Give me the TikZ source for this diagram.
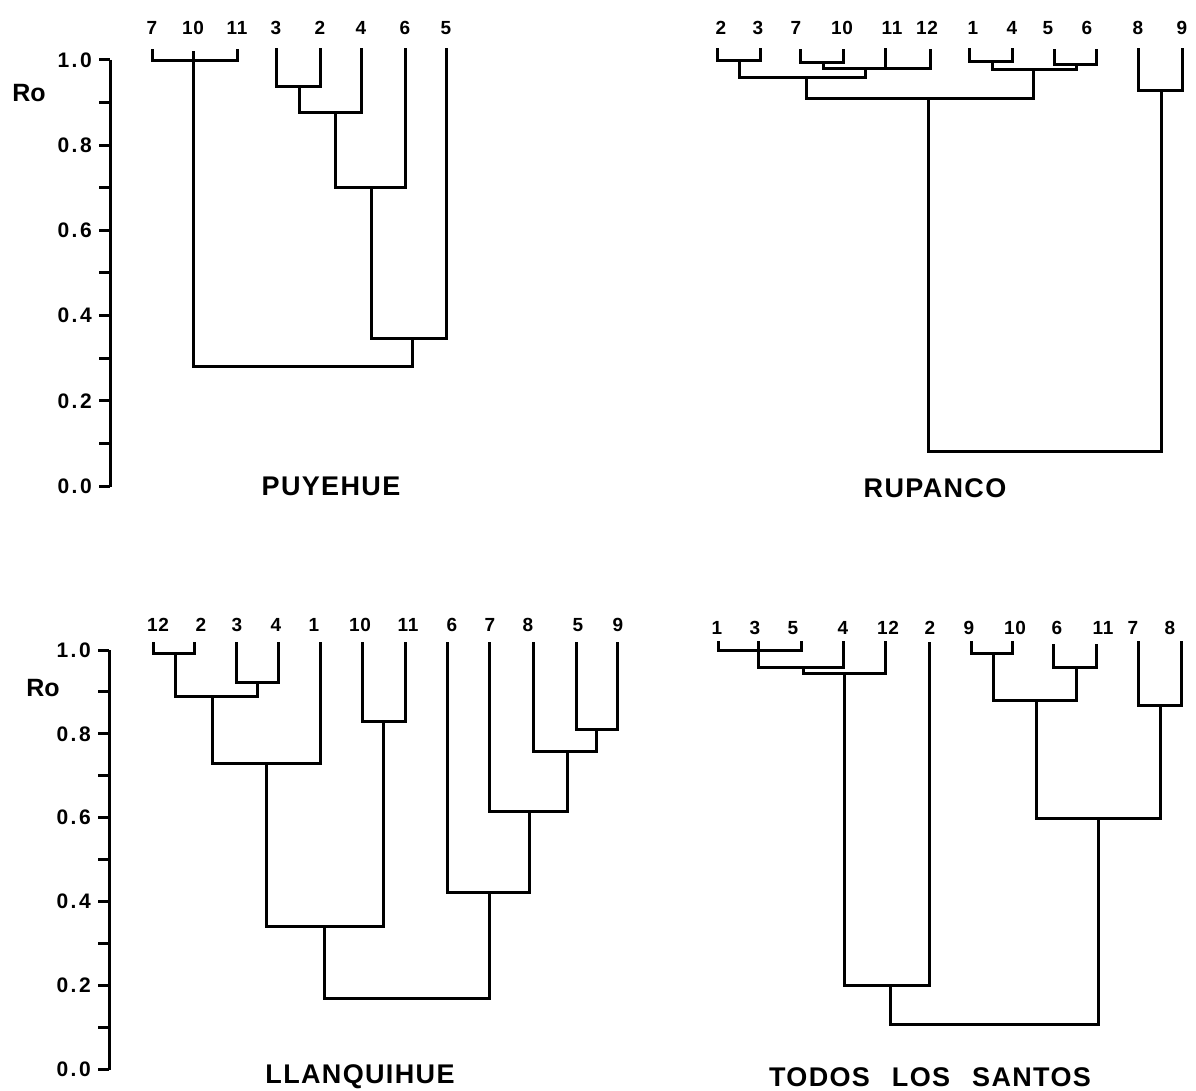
\documentclass[tikz,border=0pt]{standalone}
\usepackage{fontspec}
\setmainfont{Liberation Sans}
\newfontfamily\leaffont[LetterSpace=3]{Liberation Sans}
\newfontfamily\axfont[LetterSpace=12]{Liberation Sans}
\newfontfamily\ttlfont[LetterSpace=5]{Liberation Sans}
\begin{document}
\begin{tikzpicture}[x=1pt,y=-1pt,
  tree/.style={line width=3pt, line join=miter, line cap=rect},
  axisline/.style={line width=3pt},
  leaf/.style={inner sep=0pt, font=\leaffont\bfseries\fontsize{19}{19}\selectfont},
  axlbl/.style={inner sep=0pt, anchor=east, font=\axfont\bfseries\fontsize{21}{21}\selectfont},
  rolbl/.style={inner sep=0pt, font=\bfseries\fontsize{25}{25}\selectfont},
  ttl/.style={inner sep=0pt, font=\ttlfont\bfseries\fontsize{27}{27}\selectfont}]
\fill[white] (0,0) rectangle (1196,1091);
\useasboundingbox (0,0) rectangle (1196,1091);

% ---------- upper axis ----------
\draw[axisline] (110,60) -- (110,487);
\foreach \k in {0,...,10}{
  \draw[axisline] (99,{60+\k*42.6}) -- (110,{60+\k*42.6});
}
\foreach \v/\k in {1.0/0,0.8/2,0.6/4,0.4/6,0.2/8,0.0/10}{
  \node[axlbl] (ua\k) at (92,{60+\k*42.6}) {\v};
}
\node[rolbl] (uro) at (29,93) {Ro};

% ---------- lower axis ----------
\draw[axisline] (109,650) -- (109,1070);
\foreach \k in {0,...,10}{
  \draw[axisline] (98,{650+\k*41.9}) -- (109,{650+\k*41.9});
}
\foreach \v/\k in {1.0/0,0.8/2,0.6/4,0.4/6,0.2/8,0.0/10}{
  \node[axlbl] (la\k) at (91,{650+\k*41.9}) {\v};
}
\node[rolbl] (lro) at (43,688) {Ro};

% ---------- PUYEHUE ----------
\foreach \n/\x in {7/152,10/193,11/237,3/276,2/320,4/361,6/405,5/446}{
  \node[leaf] (pu\n) at (\x,28) {\n};
}
\draw[tree] (152,51) -- (152,61) -- (237,61) -- (237,51);
\draw[tree] (193,53) -- (193,366) -- (412,366) -- (412,338);
\draw[tree] (276,50) -- (276,87) -- (320,87) -- (320,50);
\draw[tree] (299,87) -- (299,113) -- (361,113) -- (361,50);
\draw[tree] (335,113) -- (335,188) -- (405,188) -- (405,50);
\draw[tree] (371,188) -- (371,338) -- (446,338) -- (446,50);
\node[ttl] (tpu) at (331,486) {PUYEHUE};

% ---------- RUPANCO ----------
\foreach \n/\x in {2/721,3/758,7/796,10/842,11/892,12/927,1/973,4/1012,5/1048,6/1087,8/1138,9/1182}{
  \node[leaf] (ru\n) at (\x,28) {\n};
}
\draw[tree] (717,50) -- (717,61) -- (760,61) -- (760,50);
\draw[tree] (739,61) -- (739,78) -- (865,78) -- (865,69);
\draw[tree] (800,51) -- (800,63) -- (843,63) -- (843,51);
\draw[tree] (823,63) -- (823,69) -- (930,69) -- (930,51);
\draw[tree] (885,50) -- (885,69);
\draw[tree] (806,78) -- (806,99) -- (1033,99) -- (1033,70);
\draw[tree] (969,50) -- (969,62) -- (1012,62) -- (1012,50);
\draw[tree] (992,62) -- (992,70) -- (1076,70) -- (1076,65);
\draw[tree] (1054,51) -- (1054,65) -- (1096,65) -- (1096,51);
\draw[tree] (928,99) -- (928,451) -- (1161,451) -- (1161,91);
\draw[tree] (1138,50) -- (1138,91) -- (1182,91) -- (1182,50);
\node[ttl] (tru) at (935,488) {RUPANCO};

% ---------- LLANQUIHUE ----------
\foreach \n/\x in {12/158,2/201,3/237,4/276,1/314,10/360,11/408,6/452,7/490,8/528,5/578,9/618}{
  \node[leaf] (ll\n) at (\x,625) {\n};
}
\draw[tree] (153,643) -- (153,653) -- (194,653) -- (194,643);
\draw[tree] (175,653) -- (175,696) -- (257,696) -- (257,682);
\draw[tree] (236,643) -- (236,682) -- (278,682) -- (278,643);
\draw[tree] (212,696) -- (212,763) -- (320,763) -- (320,643);
\draw[tree] (266,763) -- (266,926) -- (383,926) -- (383,721);
\draw[tree] (362,643) -- (362,721) -- (405,721) -- (405,643);
\draw[tree] (324,926) -- (324,998) -- (489,998) -- (489,892);
\draw[tree] (447,643) -- (447,892) -- (529,892) -- (529,811);
\draw[tree] (489,643) -- (489,811) -- (567,811) -- (567,751);
\draw[tree] (533,643) -- (533,751) -- (596,751) -- (596,729);
\draw[tree] (576,643) -- (576,729) -- (617,729) -- (617,643);
\node[ttl] (tll) at (360,1077) {LLANQUIHUE};

% ---------- TODOS LOS SANTOS ----------
\foreach \n/\x in {1/717,3/755,5/793,4/843,12/888,2/930,9/969,10/1015,6/1057,11/1103,7/1133,8/1170}{
  \node[leaf] (ts\n) at (\x,628) {\n};
}
\draw[tree] (718,642) -- (718,650) -- (801,650) -- (801,642);
\draw[tree] (758,642) -- (758,667) -- (843,667) -- (843,642);
\draw[tree] (803,667) -- (803,673) -- (885,673) -- (885,642);
\draw[tree] (844,673) -- (844,985) -- (929,985) -- (929,643);
\draw[tree] (890,985) -- (890,1024) -- (1098,1024) -- (1098,818);
\draw[tree] (971,642) -- (971,653) -- (1012,653) -- (1012,642);
\draw[tree] (993,653) -- (993,700) -- (1076,700) -- (1076,667);
\draw[tree] (1053,645) -- (1053,667) -- (1096,667) -- (1096,645);
\draw[tree] (1036,700) -- (1036,818) -- (1160,818) -- (1160,705);
\draw[tree] (1138,642) -- (1138,705) -- (1181,705) -- (1181,642);
\node[ttl] (tts) at (930,1077) {TODOS\hspace{22pt}LOS\hspace{22pt}SANTOS};
\end{tikzpicture}
\end{document}
